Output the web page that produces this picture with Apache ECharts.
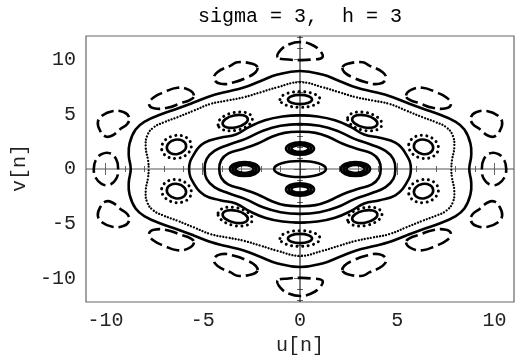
<!DOCTYPE html>
<html>
<head>
<meta charset="utf-8">
<script src="https://cdn.jsdelivr.net/npm/echarts@6/dist/echarts.min.js"></script>
<style>
  html, body { margin: 0; padding: 0; background: #fff; }
  #chart { width: 517px; height: 357px; }
</style>
</head>
<body>
<div id="chart"></div>
<script>
// ---- labels and axes ----
const titleText = 'sigma = 3,  h = 3';
const xName = 'u[n]';
const yName = 'v[n]';
const xRange = [-11, 11];
const yRange = [-12.15, 12.15];
const majorTicks = [-10, -5, 0, 5, 10];
const xMinorTicks = [-10, -9, -8, -7, -6, -5, -4, -3, -2, -1, 0, 1, 2, 3, 4, 5, 6, 7, 8, 9, 10];
const yMinorTicks = [-12, -11, -10, -9, -8, -7, -6, -5, -4, -3, -2, -1, 0, 1, 2, 3, 4, 5, 6, 7, 8, 9, 10, 11, 12];

// ---- invariant curves around the origin: first quadrant, from the v axis down to the u axis ----
// (the portrait is symmetric under u -> -u and v -> -v)
const outerSolidQ = [[0, 8.95], [1.15, 8.63], [2.02, 8.04], [2.89, 7.44], [3.82, 7.03], [4.59, 6.67],
  [5.47, 6.07], [6.29, 5.53], [7.17, 4.98], [7.93, 4.38], [8.45, 3.61], [8.76, 2.33], [8.8, 1.2], [8.7, 0]];
const dottedRingQ = [[0, 7.93], [1.16, 7.47], [2.02, 7.01], [2.88, 6.56], [3.73, 6.26], [4.59, 5.95],
  [5.45, 5.34], [6.3, 4.73], [6.99, 4.27], [7.51, 3.82], [7.85, 3.06], [7.93, 1.99], [7.81, 0.78], [7.78, 0]];
const ring3Q = [[0, 4.9], [0.9, 4.8], [1.8, 4.45], [2.6, 3.85], [3.3, 3.15], [4.1, 2.85], [4.9, 2.4],
  [5.4, 1.5], [5.7, 0]];
const ring2Q = [[0, 4.1], [1.0, 3.95], [1.9, 3.5], [2.8, 2.75], [3.7, 2.2], [4.4, 1.65], [4.8, 0.9], [4.9, 0]];
const ring1Q = [[0, 3.4], [0.8, 3.3], [1.5, 2.9], [2.2, 2.3], [3.0, 1.8], [3.7, 1.4], [4.05, 0.8], [4.15, 0]];

// ---- outer chain of islands (dashed), shapes in the first quadrant ----
const dashTop = [[-1.15, 10.2], [-1.0, 10.85], [-0.55, 11.4], [0, 11.6], [0.55, 11.4], [1.0, 10.85],
  [1.15, 10.2], [0.6, 10.0], [0, 9.95], [-0.6, 10.0]];
const dashA = [[2.19, 9.3], [2.45, 9.61], [3.22, 9.75], [3.56, 9.45], [4.25, 8.84], [4.42, 8.24],
  [4.08, 7.78], [3.39, 7.93], [2.7, 8.38], [2.28, 8.84]];
const dashB = [[5.45, 6.71], [5.71, 7.23], [6.3, 7.42], [6.99, 7.01], [7.51, 6.56], [7.76, 5.95],
  [7.51, 5.55], [6.82, 5.59], [6.13, 6.01], [5.62, 6.33]];
const dashC = [[8.79, 4.73], [9.05, 5.19], [9.65, 5.28], [10.16, 4.89], [10.39, 4.27], [10.28, 3.52],
  [9.99, 2.97], [9.65, 3.06], [9.22, 3.67], [8.87, 4.13]];
const dashSide = [[9.35, 0], [9.45, 0.9], [9.8, 1.45], [10.2, 1.35], [10.5, 0.8], [10.6, 0],
  [10.5, -0.8], [10.2, -1.35], [9.8, -1.45], [9.45, -0.9]];

// ---- small loops: [u, v, semi-axis u, semi-axis v, tilt in degrees] ----
const centralOval = [[0, 0, 1.33, 0.73, 0]];
const vIslandLoops = [[0, 1.87, 0.72, 0.57, 0], [0, 1.87, 0.58, 0.44, 0], [0, 1.87, 0.44, 0.3, 0]];
const uIslandLoops = [[2.85, 0, 0.75, 0.64, 0], [2.85, 0, 0.61, 0.5, 0], [2.85, 0, 0.47, 0.36, 0]];
const chainDottedLoops = [[0, 6.35, 1.03, 0.72, 0], [3.33, 4.35, 0.9, 0.82, -12], [6.35, 2.02, 0.77, 1.05, -10]];
const chainSolidLoops = [[0, 6.35, 0.62, 0.42, 0], [3.33, 4.35, 0.66, 0.55, -12], [6.35, 2.02, 0.5, 0.66, -10]];

// ---- helpers ----
function closeSymmetric(q) {
  const n = q.length;
  const a = q.slice();
  const b = q.slice(0, n - 1).reverse().map(p => [p[0], -p[1]]);
  const c = q.slice(1).map(p => [-p[0], -p[1]]);
  const d = q.slice(1, n - 1).reverse().map(p => [-p[0], p[1]]);
  return a.concat(b, c, d);
}
function flip(pts, su, sv) { return pts.map(p => [su * p[0], sv * p[1]]); }
function mirrorLoops(list) {
  const out = [];
  list.forEach(e => {
    const [u, v, a, b, r] = e;
    const seen = {};
    [[1, 1], [-1, 1], [1, -1], [-1, -1]].forEach(([su, sv]) => {
      const key = (su * u) + ',' + (sv * v);
      if (seen[key]) return;
      seen[key] = true;
      out.push([su * u, sv * v, a, b, su * sv * r]);
    });
  });
  return out;
}

const ink = '#000';
const solidStyle = { fill: 'none', stroke: ink, lineWidth: 2.6, lineJoin: 'round' };
const dashStyle = { fill: 'none', stroke: ink, lineWidth: 2.6, lineDash: [13, 5], lineCap: 'butt' };
const ringDotStyle = { fill: 'none', stroke: ink, lineWidth: 2.3, lineDash: [0.01, 3.1], lineCap: 'round' };
const loopDotStyle = { fill: 'none', stroke: ink, lineWidth: 3, lineDash: [0.01, 5.5], lineCap: 'round' };

function curveSeries(pts, style) {
  return {
    type: 'custom', coordinateSystem: 'cartesian2d', silent: true, data: pts,
    encode: { x: 0, y: 1 },
    renderItem: function (params, api) {
      if (params.dataIndex !== 0) return null;
      return {
        type: 'polygon',
        shape: { points: pts.map(p => api.coord(p)), smooth: 0.45 },
        style: style
      };
    }
  };
}
function loopSeries(list, style) {
  return {
    type: 'custom', coordinateSystem: 'cartesian2d', silent: true, data: list,
    encode: { x: 0, y: 1 },
    renderItem: function (params, api) {
      const c = api.coord([api.value(0), api.value(1)]);
      const s = api.size([api.value(2), api.value(3)]);
      return {
        type: 'ellipse',
        x: c[0], y: c[1],
        rotation: api.value(4) * Math.PI / 180,
        shape: { cx: 0, cy: 0, rx: s[0], ry: s[1] },
        style: style
      };
    }
  };
}

const series = [];
// coordinate axes through the origin
series.push({
  type: 'line', silent: true, symbol: 'none', data: [[xRange[0], 0], [xRange[1], 0]],
  lineStyle: { color: '#555', width: 1 }, z: 1
});
series.push({
  type: 'line', silent: true, symbol: 'none', data: [[0, yRange[0]], [0, yRange[1]]],
  lineStyle: { color: '#000', width: 1 }, z: 1
});

[outerSolidQ, ring3Q, ring2Q, ring1Q].forEach(q => series.push(curveSeries(closeSymmetric(q), solidStyle)));
series.push(curveSeries(closeSymmetric(dottedRingQ), ringDotStyle));

series.push(curveSeries(dashTop, dashStyle));
series.push(curveSeries(flip(dashTop, 1, -1), dashStyle));
series.push(curveSeries(dashSide, dashStyle));
series.push(curveSeries(flip(dashSide, -1, 1), dashStyle));
[dashA, dashB, dashC].forEach(sh => {
  [[1, 1], [-1, 1], [1, -1], [-1, -1]].forEach(([su, sv]) => series.push(curveSeries(flip(sh, su, sv), dashStyle)));
});

series.push(loopSeries(centralOval, solidStyle));
series.push(loopSeries(mirrorLoops(vIslandLoops), solidStyle));
series.push(loopSeries(mirrorLoops(uIslandLoops), solidStyle));
series.push(loopSeries(mirrorLoops(chainDottedLoops), loopDotStyle));
series.push(loopSeries(mirrorLoops(chainSolidLoops), solidStyle));

const font = 'Liberation Mono';
const fontSize = 20;
const fmt = v => (v < 0 ? '-' + (-v) : String(v));
const frameColor = '#666';

function xAxisDef(pos, ticks, len, labels) {
  return {
    type: 'value', min: xRange[0], max: xRange[1], position: pos,
    axisLine: { show: false }, splitLine: { show: false },
    axisTick: { show: true, inside: true, length: len, customValues: ticks, lineStyle: { color: frameColor, width: 1 } },
    axisLabel: labels
      ? { show: true, customValues: majorTicks, formatter: fmt, fontFamily: font, fontSize: fontSize, color: '#222', margin: 9 }
      : { show: false }
  };
}
function yAxisDef(pos, ticks, len, labels) {
  return {
    type: 'value', min: yRange[0], max: yRange[1], position: pos,
    axisLine: { show: false }, splitLine: { show: false },
    axisTick: { show: true, inside: true, length: len, customValues: ticks, lineStyle: { color: frameColor, width: 1 } },
    axisLabel: labels
      ? { show: true, customValues: majorTicks, formatter: fmt, fontFamily: font, fontSize: fontSize, color: '#222', margin: 10 }
      : { show: false }
  };
}

const chart = echarts.init(document.getElementById('chart'), null, { renderer: 'canvas' });
chart.setOption({
  animation: false,
  backgroundColor: '#fff',
  grid: { left: 86, right: 3, top: 36, bottom: 55, show: true, borderColor: frameColor, borderWidth: 1.2, backgroundColor: 'transparent' },
  xAxis: [
    xAxisDef('bottom', majorTicks, 6, true),
    xAxisDef('bottom', xMinorTicks, 3, false),
    xAxisDef('top', majorTicks, 6, false),
    xAxisDef('top', xMinorTicks, 3, false)
  ],
  yAxis: [
    yAxisDef('left', majorTicks, 6, true),
    yAxisDef('left', yMinorTicks, 3, false),
    yAxisDef('right', majorTicks, 6, false),
    yAxisDef('right', yMinorTicks, 3, false)
  ],
  graphic: [
    { type: 'text', x: 300, y: 17, style: { text: titleText, font: fontSize + 'px "' + font + '"', fill: '#000', textAlign: 'center', textVerticalAlign: 'middle' } },
    { type: 'text', x: 300, y: 346, style: { text: xName, font: fontSize + 'px "' + font + '"', fill: '#222', textAlign: 'center', textVerticalAlign: 'middle' } },
    { type: 'text', x: 20, y: 168, rotation: Math.PI / 2, style: { text: yName, font: fontSize + 'px "' + font + '"', fill: '#222', textAlign: 'center', textVerticalAlign: 'middle' } }
  ],
  series: series
});
</script>
</body>
</html>
